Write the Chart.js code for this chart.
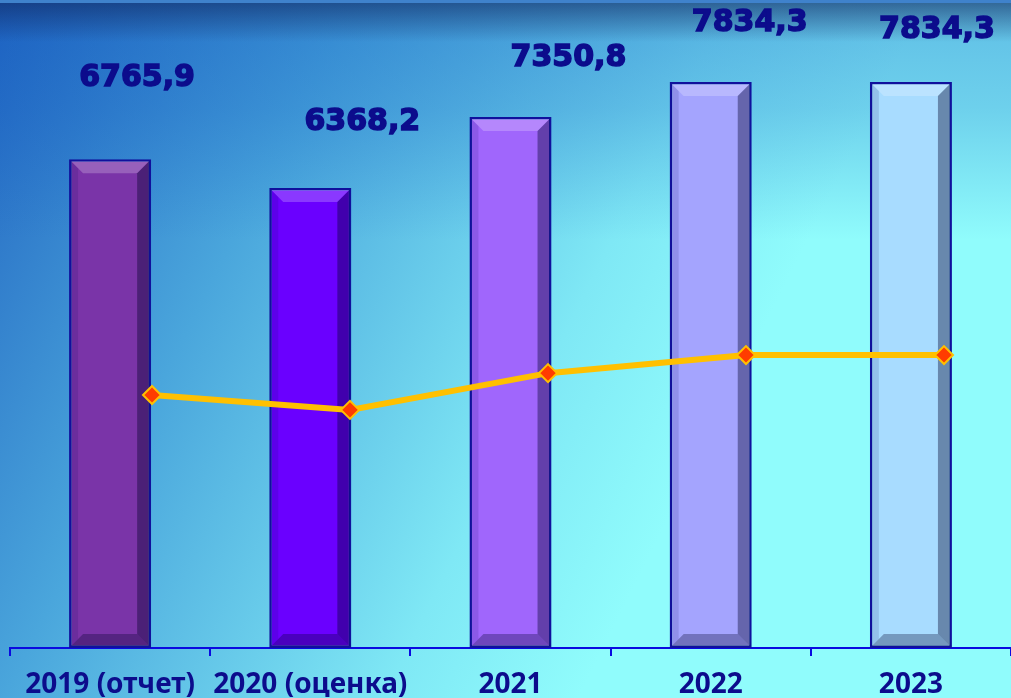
<!DOCTYPE html>
<html>
<head>
<meta charset="utf-8">
<script src="https://cdn.jsdelivr.net/npm/chart.js@4.4.1/dist/chart.umd.min.js"></script>
<style>
  html, body { margin: 0; padding: 0; overflow: hidden; }
  #wrap { width: 1011px; height: 698px; }
</style>
</head>
<body>
<div id="wrap"><canvas id="c" width="1011" height="698"></canvas></div>
<script>
const categories = ['2019 (отчет)', '2020 (оценка)', '2021', '2022', '2023'];
const barValues = [6765.9, 6368.2, 7350.8, 7834.3, 7834.3];
const lineValues = [6765.9, 6368.2, 7350.8, 7834.3, 7834.3];
const valueLabels = ['6765,9', '6368,2', '7350,8', '7834,3', '7834,3'];

const barColors = ['#7a34a8', '#6a00ff', '#a066fc', '#a4a4fe', '#a8dcff'];
// hand-placed label offsets from the bar top centre, like the original slide
const labelOffsets = [[27, -81], [52, -66], [58, -59], [39, -59], [26, -52]];

const background = {
  id: 'background',
  beforeDraw(chart) {
    const { ctx, width, height } = chart;
    ctx.save();
    const g = ctx.createLinearGradient(-40, -20, 880, 440);
    g.addColorStop(0, '#1d5cbe');
    g.addColorStop(0.35, '#4aa6dc');
    g.addColorStop(0.68, '#7fe8f5');
    g.addColorStop(0.85, '#90fcfc');
    g.addColorStop(1, '#90fcfc');
    ctx.fillStyle = g;
    ctx.fillRect(0, 0, width, height);
    // bluish veil that fades out downward
    const veil = ctx.createLinearGradient(0, 0, 0, 240);
    veil.addColorStop(0, 'rgba(20,95,195,0.4)');
    veil.addColorStop(0.45, 'rgba(20,95,195,0.28)');
    veil.addColorStop(1, 'rgba(20,95,195,0)');
    ctx.fillStyle = veil;
    ctx.fillRect(0, 0, width, 240);
    const top = ctx.createLinearGradient(0, 3, 0, 42);
    top.addColorStop(0, 'rgba(15,35,90,0.55)');
    top.addColorStop(1, 'rgba(15,35,90,0)');
    ctx.fillStyle = top;
    ctx.fillRect(0, 3, width, 40);
    ctx.fillStyle = '#3f82cc';
    ctx.fillRect(0, 0, width, 3);
    ctx.restore();
  }
};

const bevel = {
  id: 'bevel',
  afterDatasetDraw(chart, args) {
    if (args.index !== 0) return;
    const { ctx } = chart;
    const b = 12;
    args.meta.data.forEach((bar) => {
      const p = bar.getProps(['x', 'y', 'base', 'width'], true);
      const l = p.x - p.width / 2 + 2, r = p.x + p.width / 2 - 2;
      const t = p.y + 2, btm = p.base - 2;
      const quad = (pts, fill) => {
        ctx.beginPath();
        ctx.moveTo(pts[0][0], pts[0][1]);
        pts.slice(1).forEach((q) => ctx.lineTo(q[0], q[1]));
        ctx.closePath();
        ctx.fillStyle = fill;
        ctx.fill();
      };
      ctx.save();
      quad([[l, t], [r, t], [r - b, t + b], [l + b, t + b]], 'rgba(255,255,255,0.22)');
      quad([[r, t], [r, btm], [r - b, btm - b], [r - b, t + b]], 'rgba(0,0,40,0.38)');
      quad([[l, btm], [r, btm], [r - b, btm - b], [l + b, btm - b]], 'rgba(0,0,40,0.3)');
      quad([[l, t], [l + 7, t + 7], [l + 7, btm - 7], [l, btm]], 'rgba(0,0,80,0.12)');
      ctx.restore();
    });
  }
};

const valueLabelPlugin = {
  id: 'valueLabels',
  afterDatasetsDraw(chart) {
    const { ctx } = chart;
    const meta = chart.getDatasetMeta(0);
    ctx.save();
    ctx.font = 'bold 30px "DejaVu Sans"';
    ctx.fillStyle = '#0c0c8c';
    ctx.strokeStyle = '#0c0c8c';
    ctx.lineWidth = 1.5;
    ctx.textAlign = 'center';
    ctx.textBaseline = 'middle';
    meta.data.forEach((bar, i) => {
      const [dx, dy] = labelOffsets[i];
      ctx.fillText(valueLabels[i], bar.x + dx, bar.y + dy);
      ctx.strokeText(valueLabels[i], bar.x + dx, bar.y + dy);
    });
    ctx.restore();
  }
};

new Chart(document.getElementById('c'), {
  type: 'bar',
  data: {
    labels: categories,
    datasets: [{
      type: 'bar',
      data: barValues,
      backgroundColor: barColors,
      borderColor: '#10109c',
      borderWidth: 2.5,
      borderSkipped: false,
      grouped: false,
      categoryPercentage: 1,
      barPercentage: 0.41,
      xAxisID: 'x',
      yAxisID: 'y',
      order: 1,
    }, {
      type: 'line',
      data: lineValues.map((v, i) => ({ x: i, y: v })),
      borderColor: '#ffc000',
      borderWidth: 6,
      tension: 0,
      pointStyle: 'rectRot',
      pointRadius: 9,
      pointBackgroundColor: '#ff3c00',
      pointBorderColor: '#ffc000',
      pointBorderWidth: 2,
      xAxisID: 'x2',
      yAxisID: 'y2',
      order: 0,
    }],
  },
  options: {
    responsive: false,
    animation: false,
    layout: { autoPadding: false, padding: { left: 10, right: 0, top: 0, bottom: 0 } },
    plugins: { legend: { display: false }, tooltip: { enabled: false } },
    scales: {
      x: {
        afterFit(scale) { scale.height = 50; },
        border: { color: '#0a0ae0', width: 2 },
        grid: { offset: true, drawOnChartArea: false, tickLength: 8, color: '#0a0ae0', lineWidth: 2 },
        ticks: {
          color: '#0c0c8c', padding: 12, maxRotation: 0, minRotation: 0, autoSkip: false,
          font: { family: '"Noto Sans"', weight: 'bold', size: 28 },
        },
      },
      x2: { type: 'linear', display: false, offset: false, min: -0.7172, max: 4.3384 },
      y: { display: false, min: 0, max: 8970 },
      y2: { display: false, min: 0, max: 17330 },
    },
  },
  plugins: [background, bevel, valueLabelPlugin],
});
</script>
</body>
</html>
